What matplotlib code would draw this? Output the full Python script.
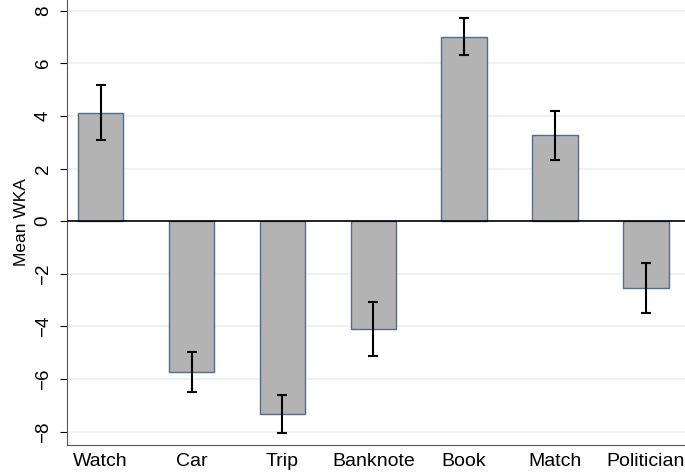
import matplotlib.pyplot as plt

categories = ['Watch', 'Car', 'Trip', 'Banknote', 'Book', 'Match', 'Politician']
means = [4.12, -5.74, -7.32, -4.1, 7.0, 3.27, -2.52]
ci_low = [3.07, -6.5, -8.04, -5.12, 6.33, 2.33, -3.47]
ci_high = [5.16, -4.95, -6.6, -3.07, 7.7, 4.2, -1.57]

plt.rcParams['font.family'] = ['Liberation Sans', 'DejaVu Sans']

err = [[m - lo for m, lo in zip(means, ci_low)],
       [hi - m for m, hi in zip(means, ci_high)]]

fig = plt.figure(figsize=(6.85, 4.75), dpi=100)
ax = fig.add_axes([0.0978, 0.0632, 0.9022, 0.9368])

x = range(len(categories))
ax.bar(x, means, width=0.5, color='#b3b3b3', edgecolor='#4f6d8c', linewidth=1.0, zorder=3)
ax.errorbar(x, means, yerr=err, fmt='none', ecolor='black', elinewidth=1.5,
            capsize=3.3, capthick=1.5, zorder=4)
ax.axhline(0, color='black', linewidth=1.2, zorder=5)

ax.set_xlim(-0.37, 6.43)
ax.set_ylim(-8.5, 8.4)
ax.set_yticks([-8, -6, -4, -2, 0, 2, 4, 6, 8])
ax.set_yticklabels(['\u22128', '\u22126', '\u22124', '\u22122', '0', '2', '4', '6', '8'],
                   rotation=90, va='center', fontsize=13.5)
ax.set_xticks(list(x))
ax.set_xticklabels(categories, fontsize=14)
ax.tick_params(axis='x', length=0, pad=6)
ax.tick_params(axis='y', length=5, width=0.8, pad=6)
ax.set_ylabel('Mean WKA', fontsize=12.5, labelpad=4)

ax.grid(axis='y', color='#eaf1f3', linewidth=1.2, zorder=0)
ax.spines['top'].set_visible(False)
ax.spines['right'].set_visible(False)
ax.spines['left'].set_color('#555555')
ax.spines['bottom'].set_color('#555555')

plt.savefig('out.png', dpi=100)
